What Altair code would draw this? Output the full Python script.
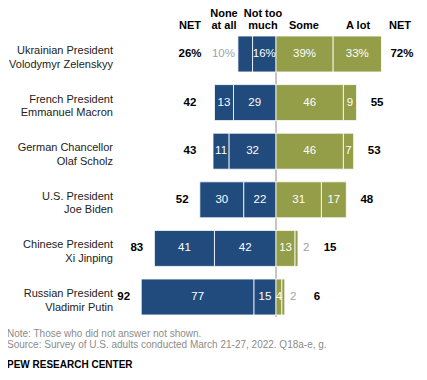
import altair as alt
import pandas as pd

leaders = [
    "Ukrainian President\nVolodymyr Zelenskyy",
    "French President\nEmmanuel Macron",
    "German Chancellor\nOlaf Scholz",
    "U.S. President\nJoe Biden",
    "Chinese President\nXi Jinping",
    "Russian President\nVladimir Putin",
]
none_at_all = [10, 13, 11, 30, 41, 77]
not_too_much = [16, 29, 32, 22, 42, 15]
some = [39, 46, 46, 31, 13, 4]
a_lot = [33, 9, 7, 17, 2, 2]
net_neg = [26, 42, 43, 52, 83, 92]
net_pos = [72, 55, 53, 48, 15, 6]

BLUE = "#214a7d"
GREEN = "#949d48"
GRAY = "#a3a3a3"
FONT = "Liberation Sans"
PX = 1.465  # pixels per percentage point
W, H = 411, 364
X0 = 268  # zero position in plot px
dom = [-X0 / PX, (W - X0) / PX]

bars, inside, out_l, out_r, nets_l, nets_r = [], [], [], [], [], []
for i, name in enumerate(leaders):
    suf = "%" if i == 0 else ""
    segs = [
        ("None at all", -none_at_all[i] - not_too_much[i], -not_too_much[i], none_at_all[i], BLUE, -1),
        ("Not too much", -not_too_much[i], 0, not_too_much[i], BLUE, -1),
        ("Some", 0, some[i], some[i], GREEN, 1),
        ("A lot", some[i], some[i] + a_lot[i], a_lot[i], GREEN, 1),
    ]
    left_edge = -net_neg[i]
    right_edge = net_pos[i]
    for cat, a, b, v, col, side in segs:
        bars.append(dict(row=name, cat=cat, x=a, x2=b, color=col))
        lab = f"{v}{suf}"
        outside = v < 3 or (suf and v < 12)
        if not outside:
            inside.append(dict(row=name, x=(a + b) / 2, t=lab))
        elif side < 0:
            xx = a - 2
            out_l.append(dict(row=name, x=xx, t=lab))
            left_edge = min(left_edge, xx - len(lab) * 6.5 / PX)
        else:
            xx = b + 3.5
            out_r.append(dict(row=name, x=xx, t=lab))
            right_edge = max(right_edge, xx + len(lab) * 6.5 / PX)
    nets_l.append(dict(row=name, x=min(-58.7, left_edge - 12), t=f"{net_neg[i]}{suf}"))
    nets_r.append(dict(row=name, x=right_edge + 14, t=f"{net_pos[i]}{suf}"))

bars_df = pd.DataFrame(bars)
yscale = alt.Scale(domain=leaders, range=[21.7, 313.3], paddingInner=0.26, paddingOuter=0.13)
xscale = alt.Scale(domain=dom, nice=False, zero=False)
Y = alt.Y("row:N", scale=yscale, axis=None)

zero_line = alt.Chart(pd.DataFrame({"v": [0]})).mark_rule(color="#8a8a8a", strokeWidth=1).encode(
    x=alt.X("v:Q", scale=xscale, axis=None), y=alt.value(28), y2=alt.value(309)
)

bar_layer = alt.Chart(bars_df).mark_bar(stroke="white", strokeWidth=0.8).encode(
    x=alt.X("x:Q", scale=xscale, axis=None),
    x2="x2:Q",
    y=Y,
    color=alt.Color("color:N", scale=None, legend=None),
)

def text_layer(rows, **kw):
    return alt.Chart(pd.DataFrame(rows)).mark_text(font=FONT, baseline="middle", **kw).encode(
        x=alt.X("x:Q", scale=xscale, axis=None), y=Y, text="t:N"
    )

inside_l = text_layer(inside, fontSize=11.5, color="white", align="center")
outl_l = text_layer(out_l, fontSize=11.5, color=GRAY, align="right")
outr_l = text_layer(out_r, fontSize=11.5, color=GRAY, align="left")
netl_l = text_layer(nets_l, fontSize=11.5, fontWeight="bold", color="black", align="center")
netr_l = text_layer(nets_r, fontSize=11.5, fontWeight="bold", color="black", align="center")

row_labels = alt.Chart(pd.DataFrame({"row": leaders})).mark_text(
    font=FONT, fontSize=11, align="right", baseline="middle", lineBreak="\n", lineHeight=13.5, dy=-3, color="#222"
).encode(x=alt.value(105), y=Y, text="row:N")

hdr1 = pd.DataFrame({"x": [-35.5, -8.9], "t": ["None", "Not too"]})
hdr2 = pd.DataFrame({"x": [-58.7, -35.5, -8.9, 19.1, 56.0, 84.6],
                     "t": ["NET", "at all", "much", "Some", "A lot", "NET"]})
h1 = alt.Chart(hdr1).mark_text(font=FONT, fontSize=11, fontWeight="bold", baseline="middle").encode(
    x=alt.X("x:Q", scale=xscale, axis=None), y=alt.value(6), text="t:N")
h2 = alt.Chart(hdr2).mark_text(font=FONT, fontSize=11, fontWeight="bold", baseline="middle").encode(
    x=alt.X("x:Q", scale=xscale, axis=None), y=alt.value(18), text="t:N")

foot = pd.DataFrame({
    "t": ["Note: Those who did not answer not shown.",
          "Source: Survey of U.S. adults conducted March 21-27, 2022. Q18a-e, g."],
    "y": [326, 337],
})
foot_l = alt.Chart(foot).mark_text(font=FONT, fontSize=10, color="#8c8c8c", align="left", baseline="middle").encode(
    x=alt.value(-1), y=alt.Y("y:Q", scale=None), text="t:N")
pew = alt.Chart(pd.DataFrame({"t": ["PEW RESEARCH CENTER"]})).mark_text(
    font=FONT, fontSize=10, fontWeight="bold", color="black", align="left", baseline="middle"
).encode(x=alt.value(-1), y=alt.value(357), text="t:N")

chart = alt.layer(
    zero_line, bar_layer, inside_l, outl_l, outr_l, netl_l, netr_l, row_labels, h1, h2, foot_l, pew
).properties(
    width=W, height=H, padding=0, autosize=alt.AutoSizeParams(type="none")
).configure_view(strokeWidth=0).resolve_scale(y="shared")

chart.save("out.html", embed_options={"renderer": "svg", "actions": False})
